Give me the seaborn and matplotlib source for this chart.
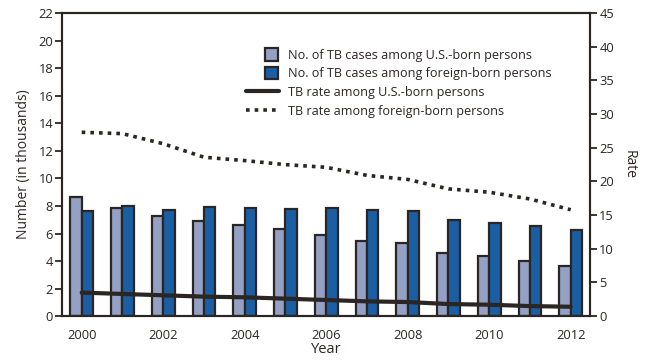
import numpy as np
import pandas as pd
import seaborn as sns
import matplotlib.pyplot as plt
from matplotlib.patches import Rectangle
from matplotlib.legend_handler import HandlerPatch

sns.set_style("white")
plt.rcParams["font.family"] = ["Open Sans", "DejaVu Sans"]

years = list(range(2000, 2013))
us_cases = [8.63, 7.84, 7.26, 6.90, 6.61, 6.32, 5.88, 5.45, 5.28, 4.58, 4.36, 3.98, 3.64]
fb_cases = [7.62, 7.98, 7.69, 7.91, 7.84, 7.76, 7.84, 7.74, 7.62, 6.98, 6.75, 6.51, 6.25]
us_rate = [3.5, 3.3, 3.1, 2.9, 2.8, 2.6, 2.4, 2.2, 2.1, 1.8, 1.7, 1.5, 1.4]
fb_rate = [27.3, 27.1, 25.6, 23.6, 23.1, 22.5, 22.1, 20.9, 20.3, 18.9, 18.4, 17.4, 15.8]

us_label = "No. of TB cases among U.S.-born persons"
fb_label = "No. of TB cases among foreign-born persons"

ink = "#2b2523"

cases = pd.DataFrame({
    "Year": years * 2,
    "Cases": us_cases + fb_cases,
    "Group": [us_label] * len(years) + [fb_label] * len(years),
})
rates = pd.DataFrame({"Year": years, "US": us_rate, "FB": fb_rate})

fig = plt.figure(figsize=(6.61, 3.63), dpi=100)
ax = fig.add_axes([0.094, 0.129, 0.799, 0.835])

sns.barplot(data=cases, x="Year", y="Cases", hue="Group", native_scale=True,
            width=0.56, palette=["#94a0c4", "#1a5fa3"], saturation=1,
            edgecolor=ink, linewidth=1.6, errorbar=None, ax=ax)

ax2 = ax.twinx()
sns.lineplot(data=rates, x="Year", y="US", color=ink, linewidth=3,
             label="TB rate among U.S.-born persons", ax=ax2)
sns.lineplot(data=rates, x="Year", y="FB", color=ink, linewidth=2.6,
             linestyle=(0, (1, 1.4)), dash_capstyle="butt",
             label="TB rate among foreign-born persons", ax=ax2)

ax.set_xlim(1999.52, 2012.48)
ax.set_ylim(0, 22)
ax2.set_ylim(0, 45)
ax.set_xticks(years)
ax.set_xticklabels([str(y) if y % 2 == 0 else "" for y in years])
ax.set_yticks(range(0, 23, 2))
ax2.set_yticks(range(0, 46, 5))

for a in (ax, ax2):
    for s in a.spines.values():
        s.set_color(ink)
        s.set_linewidth(1.5)
    a.tick_params(axis="both", direction="out", length=5, width=1.3,
                  color=ink, labelcolor=ink, labelsize=9.3, pad=1.5)
    a.grid(False)
ax.tick_params(axis="x", pad=4)

ax.set_xlabel("Year", fontsize=10.5, color=ink, labelpad=0)
ax.set_ylabel("Number (in thousands)", fontsize=10, color=ink, labelpad=5)
ax2.set_ylabel("Rate", fontsize=10, color=ink, rotation=270, labelpad=16)


def square_patch(legend, orig_handle, xdescent, ydescent, width, height, fontsize):
    side = height + 1
    return Rectangle((-xdescent + width - side - 1, -ydescent - 0.5), side, side)


h1, l1 = ax.get_legend_handles_labels()
h2, l2 = ax2.get_legend_handles_labels()
ax.get_legend().remove()
ax2.get_legend().remove()
leg = ax2.legend(h1 + h2, l1 + l2, loc="upper left", bbox_to_anchor=(0.337, 0.903),
                 frameon=False, fontsize=9.1, handlelength=2.6, handleheight=1.0,
                 handletextpad=0.7, labelspacing=0.45, borderpad=0, labelcolor=ink,
                 handler_map={Rectangle: HandlerPatch(patch_func=square_patch)})

fig.savefig("out.png", dpi=100)
